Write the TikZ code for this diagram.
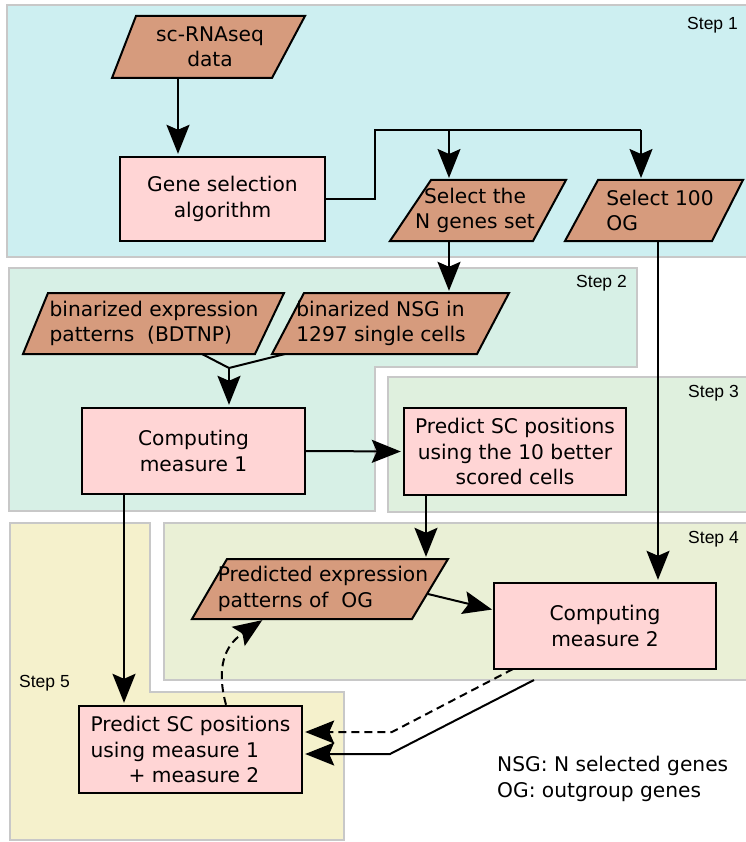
\documentclass[tikz,border=0pt]{standalone}
\usepackage{fontspec}
\setmainfont{DejaVu Sans}
\newfontfamily\stepfont{Liberation Sans}
\usetikzlibrary{arrows.meta}
\definecolor{sone}{RGB}{205,239,241}
\definecolor{stwo}{RGB}{215,240,230}
\definecolor{sthree}{RGB}{223,240,222}
\definecolor{sfour}{RGB}{234,240,214}
\definecolor{sfive}{RGB}{245,241,204}
\definecolor{pborder}{RGB}{200,200,200}
\definecolor{datafill}{RGB}{214,155,125}
\definecolor{boxpink}{RGB}{255,213,213}
\newcommand\mainsize{\fontsize{20.2pt}{25.5pt}\selectfont}
\newcommand\datashape[6]{\filldraw[datastyle] (#1,#3) -- (#2,#3) -- (#5,#6) -- (#4,#6) -- cycle;}
\begin{document}
\begin{tikzpicture}[x=1pt,y=-1pt,
  panel/.style={draw=pborder,line width=2.2pt},
  steplabel/.style={font=\stepfont\fontsize{17.5pt}{20pt}\selectfont,anchor=base east,inner sep=0pt},
  proc/.style={draw=black,line width=2.4pt,fill=boxpink,align=center,font=\mainsize,inner sep=0pt},
  datastyle/.style={draw=black,line width=2pt,fill=datafill,line join=miter},
  datatext/.style={align=center,font=\mainsize,inner sep=0pt},
  ln/.style={draw=black,line width=2pt},
  arr/.style={ln,-{Stealth[length=29pt,width=23pt,inset=5pt]},shorten >=2pt},
  dsh/.style={dash pattern=on 8pt off 5pt}]
\useasboundingbox (0,0) rectangle (745,842);
% panels
\filldraw[panel,fill=sone] (7,5) rectangle (750,257);
\filldraw[panel,fill=stwo] (9,268) -- (637,268) -- (637,367) -- (375,367) -- (375,511) -- (9,511) -- cycle;
\filldraw[panel,fill=sthree] (388,377) rectangle (750,512);
\filldraw[panel,fill=sfour] (164,523) rectangle (750,680);
\filldraw[panel,fill=sfive] (10,523) -- (150,523) -- (150,692) -- (344,692) -- (344,840) -- (10,840) -- cycle;
\node[steplabel] (l1) at (738,30) {Step 1};
\node[steplabel] (l2) at (627,287) {Step 2};
\node[steplabel] (l3) at (739,397) {Step 3};
\node[steplabel] (l4) at (739,543) {Step 4};
\node[steplabel] (l5) at (70,687) {Step 5};
% data shapes
\datashape{136}{305}{16}{112}{272}{78}
\node[datatext,minimum height=62pt] (sc) at (210,47) {sc-RNAseq\\data};
\datashape{431}{566}{180}{390}{533}{241}
\node[datatext,minimum height=61pt] (selN) at (475,210.5) {Select the\\N genes set};
\datashape{598}{743}{180}{565}{712}{241}
\node[datatext,align=left,minimum height=61pt] (sel100) at (660,210.5) {Select 100\\OG};
\datashape{48}{284}{293}{23}{255}{354}
\node[datatext,align=left,minimum height=61pt] (binE) at (154,323.5) {binarized expression\\patterns\ \ (BDTNP)};
\datashape{304}{509}{293}{272}{477}{354}
\node[datatext,align=left,minimum height=61pt] (binN) at (381,323.5) {binarized NSG in\\1297 single cells};
\datashape{227}{448}{559}{192}{412}{619}
\node[datatext,align=left,minimum height=60pt] (pe) at (323,589) {Predicted expression\\patterns of\ \ OG};
% process boxes
\node[proc,minimum width=205pt,minimum height=84pt] (gene) at (222.5,199) {Gene selection\\algorithm};
\node[proc,minimum width=223pt,minimum height=86pt] (m1) at (193.5,451) {Computing\\measure 1};
\node[proc,minimum width=222pt,minimum height=87pt] (p10) at (515,451.5) {Predict SC positions\\using the 10 better\\scored cells};
\node[proc,minimum width=222pt,minimum height=86pt] (m2) at (605,626) {Computing\\measure 2};
\node[proc,minimum width=223pt,minimum height=87pt,align=left] (pf) at (190.5,749.5) {Predict SC positions\\using measure 1\\\hspace*{38pt}+ measure 2};
% legend
\node[font=\mainsize,align=left,anchor=north west,inner sep=0pt] (legend) at (497,756) {NSG: N selected genes\\OG: outgroup genes};
% helper coordinates
\coordinate (c178) at (178,0);
\coordinate (top) at (375,130);
\coordinate (sN) at (449,180);
\coordinate (s100) at (641,180);
\coordinate (c658) at (658,0);
\coordinate (eB) at (202,354);
\coordinate (nB) at (285,354);
\coordinate (jn) at (229,368);
\coordinate (c426) at (426,0);
\coordinate (c124) at (124,0);
\coordinate (peR) at (428,594);
\coordinate (m2in) at (494,610);
\coordinate (c226) at (226,0);
\coordinate (peB) at (264,619);
\coordinate (m2bl) at (513,669);
\coordinate (kd) at (392,732);
\coordinate (ks0) at (534,680);
\coordinate (ks) at (390,754);
% connectors
\draw[arr] (c178 |- sc.south) -- (c178 |- gene.north);
\draw[ln] (gene.east) -| (top) -- (top -| s100);
\draw[arr] (top -| sN) -- (sN);
\draw[arr] (top -| s100) -- (s100);
\draw[arr] (sN |- selN.south) -- (sN |- binN.north);
\draw[arr] (c658 |- sel100.south) -- (c658 |- m2.north);
\draw[ln] (eB) -- (jn) -- (nB);
\draw[arr] (jn) -- (jn |- m1.north);
\draw[arr] (m1.east) -- (p10.west);
\draw[arr] (c426 |- p10.south) -- (c426 |- pe.north);
\draw[arr] (c124 |- m1.south) -- (c124 |- pf.north);
\draw[arr] (peR) -- (m2in);
\draw[arr,dsh] (c226 |- pf.north) .. controls (214,660) and (230,642) .. (peB);
\draw[arr,dsh] (m2bl) -- (kd) -- (kd -| pf.east);
\draw[arr] (ks0) -- (ks) -- (ks -| pf.east);
\end{tikzpicture}
\end{document}
